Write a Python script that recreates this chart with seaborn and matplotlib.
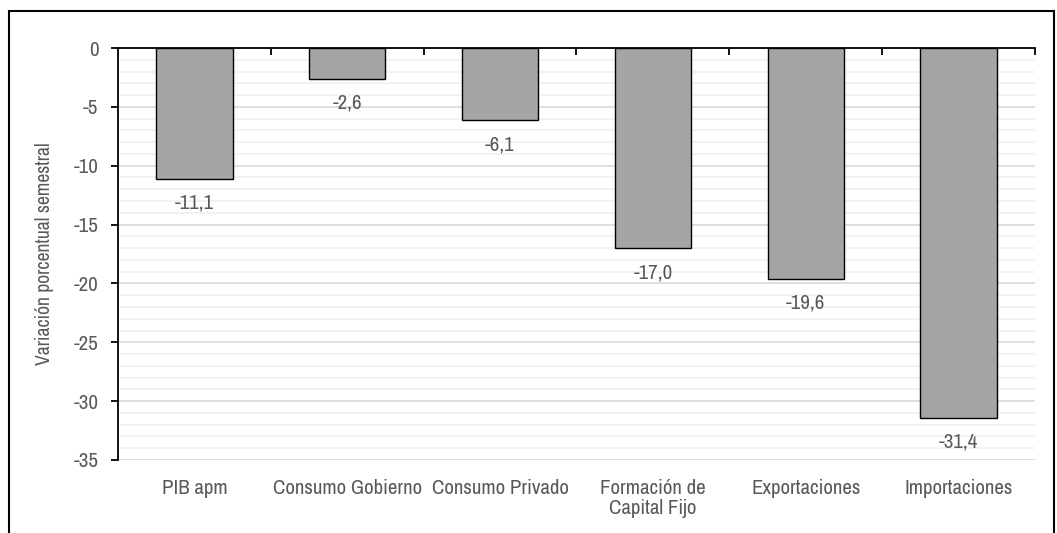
import matplotlib
matplotlib.use("Agg")
import matplotlib.pyplot as plt
import matplotlib.font_manager as fm
from matplotlib.patches import Rectangle
from matplotlib.ticker import MultipleLocator, FixedLocator
import seaborn as sns
import pandas as pd

categorias = ["PIB apm", "Consumo Gobierno", "Consumo Privado",
              "Formación de\nCapital Fijo", "Exportaciones", "Importaciones"]
variacion = [-11.1, -2.6, -6.1, -17.0, -19.6, -31.4]
ticks_y = [0, -5, -10, -15, -20, -25, -30, -35]

sns.set_theme(style="white")

# Prefer a narrow sans face when one is available
fam, stretch = "Liberation Sans", "normal"
for f in fm.fontManager.ttflist:
    n = f.name
    if f.style == "normal" and f.weight in (400, "normal", "regular"):
        if "Narrow" in n or "Condensed" in n:
            fam, stretch = n, f.stretch
            break
        if n == "Noto Sans" and f.stretch in ("condensed", "semi-condensed"):
            fam, stretch = n, f.stretch
            break
plt.rcParams["font.family"] = [fam, "DejaVu Sans"]
plt.rcParams["font.stretch"] = stretch

gris_txt = "#595959"
df = pd.DataFrame({"cat": categorias, "val": variacion})

fig = plt.figure(figsize=(10.57, 5.33), dpi=100)
ax = fig.add_axes([118/1057, 1-460/533, (1035-118)/1057, (460-48)/533])

sns.barplot(data=df, x="cat", y="val", color="#a5a5a5", edgecolor="black",
            linewidth=1.0, width=0.5, saturation=1, ax=ax, zorder=3)

ax.set_ylim(-35, 0)
ax.set_xlim(-0.5, len(categorias) - 0.5)
ax.yaxis.set_major_locator(FixedLocator(ticks_y))
ax.yaxis.set_minor_locator(MultipleLocator(1))
ax.grid(which="major", axis="y", color="#d9d9d9", linewidth=1.2, zorder=0)
ax.grid(which="minor", axis="y", color="#f0f0f0", linewidth=1.2, zorder=0)
ax.set_axisbelow(True)

for s in ["right", "bottom"]:
    ax.spines[s].set_visible(False)
for s in ["left", "top"]:
    ax.spines[s].set_color("black")
    ax.spines[s].set_linewidth(1.3)

ax.tick_params(axis="y", which="major", left=True, length=5, width=1.3,
               color="black", labelsize=15, labelcolor=gris_txt, pad=9)
ax.tick_params(axis="y", which="minor", left=False)
ax.set_yticklabels([str(t) for t in ticks_y])

# Category boundary ticks on the top spine
ax.set_xticks(range(len(categorias)))
ax.set_xticklabels(categorias)
ax.tick_params(axis="x", which="major", top=False, bottom=False,
               labelsize=15, labelcolor=gris_txt, pad=8)
for lbl in ax.get_xticklabels():
    lbl.set_verticalalignment("top")
    lbl.set_linespacing(1.05)
ax.xaxis.set_minor_locator(FixedLocator([i + 0.5 for i in range(len(categorias))]))
ax.tick_params(axis="x", which="minor", top=True, bottom=False, direction="in",
               length=5, width=1.3, color="black")

ax.set_xlabel("")
ax.set_ylabel("Variación porcentual semestral", fontsize=14.2, color=gris_txt, labelpad=14)

for i, v in enumerate(variacion):
    ax.annotate(f"{v:.1f}".replace(".", ","), xy=(i, v), xytext=(0, -11),
                textcoords="offset points", ha="center", va="top",
                fontsize=15, color=gris_txt)

fig.patches.append(Rectangle((9/1057, -0.05), (1054-9)/1057, 1.05 - 11/533,
                             transform=fig.transFigure, fill=False,
                             edgecolor="black", linewidth=1.5))

fig.savefig("out.png", dpi=100)
